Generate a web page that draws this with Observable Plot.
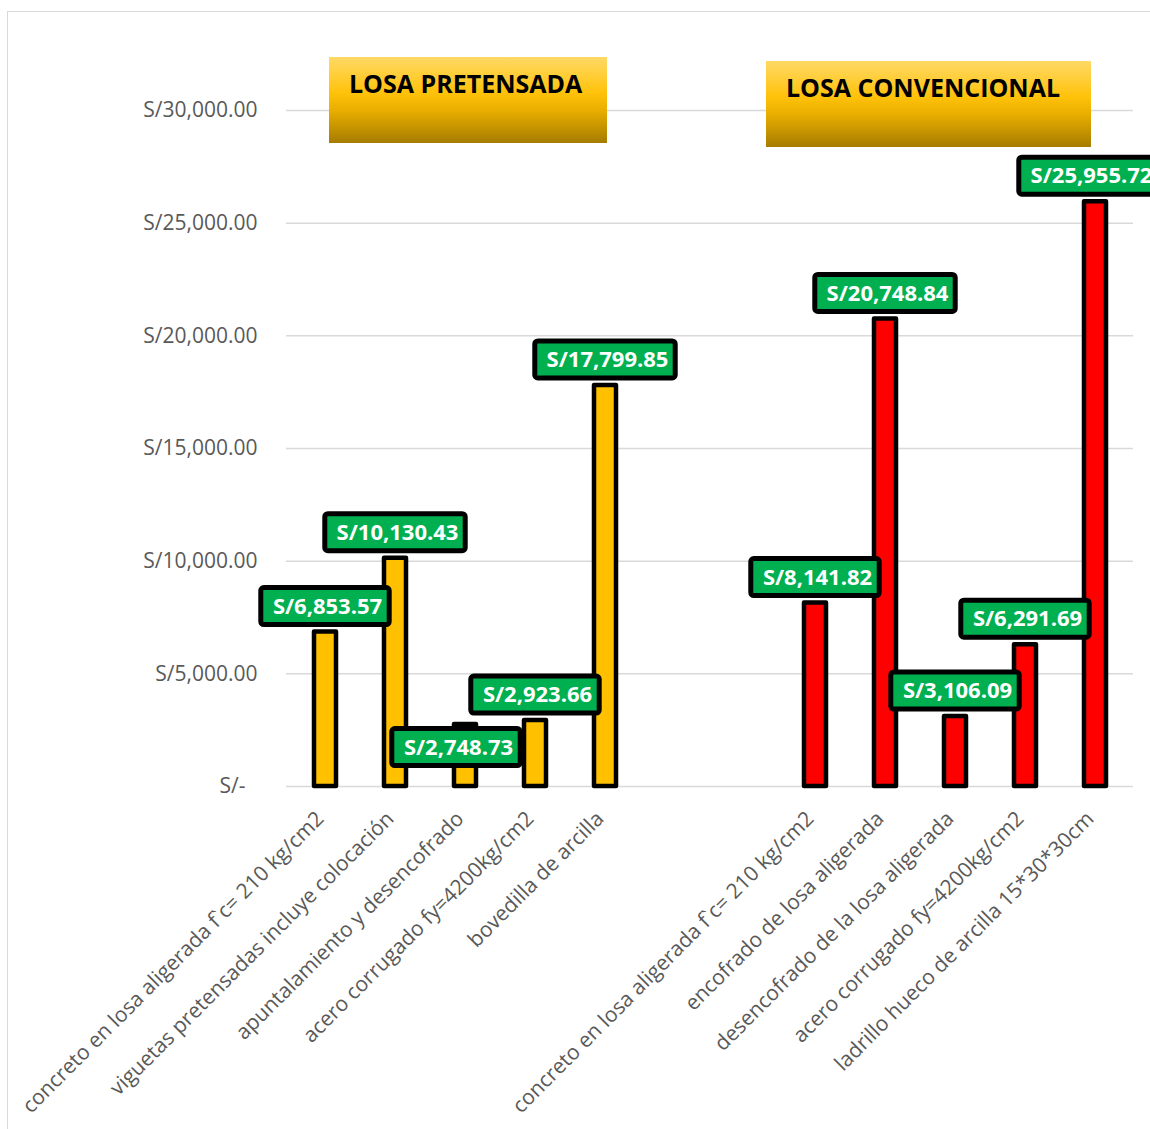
<!DOCTYPE html>
<html>
<head>
<meta charset="utf-8">
<script src="https://cdn.jsdelivr.net/npm/d3@7"></script>
<script src="https://cdn.jsdelivr.net/npm/@observablehq/plot@0.6"></script>
<style>
  html, body { margin: 0; padding: 0; background: #ffffff; }
  #wrap { position: relative; width: 1150px; height: 1129px; overflow: hidden; font-family: "Open Sans", sans-serif; }
  #frame { position: absolute; left: 7px; top: 11px; width: 1300px; height: 1300px; border: 1px solid #d9d9d9; box-sizing: border-box; }
  #chart { position: absolute; left: 0; top: 0; }
  .title { position: absolute; box-sizing: border-box; padding-left: 20px; padding-top: 14px;
    background: linear-gradient(to bottom, #FFD966 0%, #FFC20A 42%, #E8AE00 62%, #A67C00 100%);
    font-weight: 700; font-size: 25px; line-height: 25px; color: #000; white-space: nowrap; }
</style>
</head>
<body>
<div id="wrap">
  <div id="frame"></div>
  <div id="chart"></div>
</div>
<script>
// ---- data ----
const pretensadaItems = [
  "concreto en losa aligerada f`c= 210 kg/cm2",
  "viguetas pretensadas incluye colocación",
  "apuntalamiento y desencofrado",
  "acero corrugado fy=4200kg/cm2",
  "bovedilla de arcilla"
];
const pretensadaCosts = [6853.57, 10130.43, 2748.73, 2923.66, 17799.85];

const convencionalItems = [
  "concreto en losa aligerada f`c= 210 kg/cm2",
  "encofrado de losa aligerada",
  "desencofrado de la losa aligerada",
  "acero corrugado fy=4200kg/cm2",
  "ladrillo hueco de arcilla 15*30*30cm"
];
const convencionalCosts = [8141.82, 20748.84, 3106.09, 6291.69, 25955.72];

const yTicks = [0, 5000, 10000, 15000, 20000, 25000, 30000];
const groupTitles = ["LOSA PRETENSADA", "LOSA CONVENCIONAL"];

// ---- derived table ----
const gapSlots = 2;
const rows = [
  ...pretensadaItems.map((item, i) => ({slot: i, item, cost: pretensadaCosts[i], group: "p"})),
  ...convencionalItems.map((item, i) => ({slot: pretensadaItems.length + gapSlots + i, item, cost: convencionalCosts[i], group: "c"}))
];
const slotCount = pretensadaItems.length + gapSlots + convencionalItems.length;

const W = 1150, H = 1129;
const mLeft = 286, mRight = 17, mTop = 110, mBottom = 343;
const bw = (W - mLeft - mRight) / slotCount;

const money = d3.format(",.2f");
const fmt = v => v === 0 ? "S/-\u2007" : "S/" + money(v);

// label placement tweaks (slot -> [dx, dy])
const defaultOffset = [0, -25.5];
const nudges = new Map([[2, [-9, 23]], [11, [-6, -25.5]]]);

function labelMarks(data, dx, dy) {
  const short = data.filter(d => fmt(d.cost).length <= 10);
  const long = data.filter(d => fmt(d.cost).length > 10);
  const box = (arr, halfW) => Plot.barY(arr, {
    x: "slot", y1: "cost", y2: "cost",
    insetLeft: bw / 2 - halfW, insetRight: bw / 2 - halfW,
    insetTop: -18.5, insetBottom: -18.5,
    dx, dy, fill: "#00B050", stroke: "#000", strokeWidth: 5, rx: 3
  });
  return [
    box(short, 64.5),
    box(long, 70.5),
    Plot.text(data, {
      x: "slot", y: "cost", text: d => fmt(d.cost),
      dx: dx + 2, dy, fill: "#ffffff", fontWeight: "bold", fontSize: 22, fontFamily: "Open Sans"
    })
  ];
}

const defaultLabelRows = rows.filter(d => !nudges.has(d.slot));
const labelLayers = [labelMarks(defaultLabelRows, defaultOffset[0], defaultOffset[1])];
for (const [slot, [dx, dy]] of nudges) {
  labelLayers.push(labelMarks(rows.filter(d => d.slot === slot), dx, dy));
}

const chart = Plot.plot({
  width: W, height: H,
  marginLeft: mLeft, marginRight: mRight, marginTop: mTop, marginBottom: mBottom,
  style: {fontFamily: "Open Sans", background: "transparent", overflow: "visible"},
  x: {type: "band", domain: d3.range(slotCount), padding: 0, axis: null},
  y: {domain: [0, 30000]},
  marks: [
    Plot.ruleY(yTicks, {stroke: "#D9D9D9", strokeWidth: 1.5}),
    Plot.barY(rows.filter(d => d.group === "p"), {
      x: "slot", y: "cost", fill: "#FFC000", stroke: "#000", strokeWidth: 4.5,
      strokeLinejoin: "round", insetLeft: 24, insetRight: 24
    }),
    Plot.barY(rows.filter(d => d.group === "c"), {
      x: "slot", y: "cost", fill: "#FF0000", stroke: "#000", strokeWidth: 4.5,
      strokeLinejoin: "round", insetLeft: 24, insetRight: 24
    }),
    ...labelLayers.flat(),
    Plot.axisY(yTicks, {
      label: null, tickSize: 0, tickPadding: 29, tickFormat: fmt,
      fontSize: 21, color: "#595959", fontFamily: "Open Sans"
    }),
    Plot.text(rows, {
      x: "slot", frameAnchor: "bottom", text: "item",
      rotate: -45, textAnchor: "end", lineAnchor: "top",
      dx: -11, dy: 23, fill: "#595959", fontSize: 21, fontFamily: "Open Sans"
    })
  ]
});
document.getElementById("chart").appendChild(chart);

// group title boxes
const titleBoxes = [
  {left: 329, top: 57, width: 278, height: 86},
  {left: 766, top: 61, width: 325, height: 86}
];
groupTitles.forEach((t, i) => {
  const b = titleBoxes[i];
  const div = document.createElement("div");
  div.className = "title";
  Object.assign(div.style, {left: b.left + "px", top: b.top + "px", width: b.width + "px", height: b.height + "px"});
  div.textContent = t;
  document.getElementById("wrap").appendChild(div);
});
</script>
</body>
</html>
